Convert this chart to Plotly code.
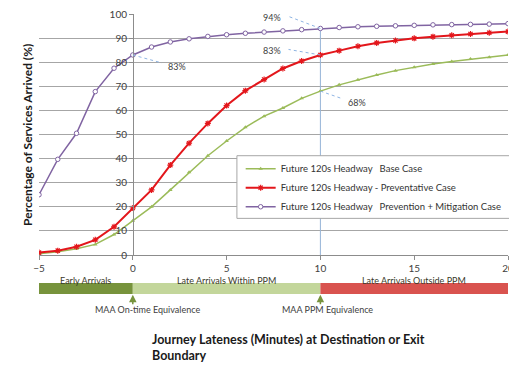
import plotly.graph_objects as go

# ---- data ----
minutes = list(range(-5, 21))
base_case = [0.5, 1.3, 2.6, 4.4, 8.5, 14.2, 20, 27, 34.3, 41.2, 47.3, 53, 57.6, 61, 65, 68,
             70.6, 72.7, 74.7, 76.5, 77.9, 79.3, 80.3, 81.3, 82.1, 83]
preventative = [1, 1.8, 3.4, 6.3, 11.7, 19.5, 27, 37.3, 46.4, 54.6, 62, 68.2, 72.8, 77.4, 80.5, 83,
                84.8, 86.6, 88, 89, 89.9, 90.6, 91.2, 91.7, 92.2, 92.7]
prevention_mitigation = [25, 39.7, 50.5, 67.8, 77.5, 83, 86.3, 88.4, 89.7, 90.7, 91.4, 92, 92.5, 93, 93.5, 94,
                         94.4, 94.7, 94.9, 95.1, 95.3, 95.5, 95.6, 95.7, 95.8, 96]
series_names = ["Future 120s Headway   Base Case",
                "Future 120s Headway - Preventative Case",
                "Future 120s Headway   Prevention + Mitigation Case"]
x_ticks = [-5, 0, 5, 10, 15, 20]
y_ticks = [0, 10, 20, 30, 40, 50, 60, 70, 80, 90, 100]
bands = [(-5, 0, "Early Arrivals"), (0, 10, "Late Arrivals Within PPM"), (10, 20, "Late Arrivals Outside PPM")]
# (point x, point y, label, label x, label y)
callouts = [(0, 83, "83%", 1.75, 78.2), (10, 94, "94%", 8.0, 98.5), (10, 83, "83%", 8.0, 84.8), (10, 68, "68%", 11.35, 63.4)]
markers_at = [(0, "MAA On-time Equivalence", 0.8), (10, "MAA PPM Equivalence", 10.4)]

FONT = "Lato, 'Open Sans', sans-serif"
TXT = "#404040"

fig = go.Figure()

# vertical reference line at x = 10
fig.add_trace(go.Scatter(x=[10, 10], y=[0, 94], mode="lines",
                         line=dict(color="#95B3D7", width=1), showlegend=False, hoverinfo="skip"))

fig.add_trace(go.Scatter(x=minutes, y=base_case, name=series_names[0], mode="lines+markers",
                         line=dict(color="#9BBB59", width=1.5),
                         marker=dict(symbol="triangle-up", size=4, color="#9BBB59")))
fig.add_trace(go.Scatter(x=minutes, y=preventative, name=series_names[1], mode="lines+markers",
                         line=dict(color="#E3161B", width=2),
                         marker=dict(symbol="asterisk", size=5, line=dict(color="#E3161B", width=1.2))))
fig.add_trace(go.Scatter(x=minutes, y=prevention_mitigation, name=series_names[2], mode="lines+markers",
                         line=dict(color="#8064A2", width=1.5),
                         marker=dict(symbol="circle", size=4.5, color="white",
                                     line=dict(color="#8064A2", width=1))))

# callout leader lines and labels
for (px, py, txt, tx, ty) in callouts:
    left_of = tx < px
    fig.add_shape(type="line", x0=px, y0=py, x1=tx + (0.3 if left_of else -0.2),
                  y1=ty + (0.5 if ty > py else 1.5),
                  xref="x", yref="y", line=dict(color="#8EB4E3", width=1, dash="dot"))
    fig.add_annotation(x=tx, y=ty, text=txt, showarrow=False, xref="x", yref="y",
                       xanchor="right" if left_of else "left",
                       font=dict(family=FONT, size=9, color=TXT))

# legend box (white, covers gridlines)
fig.add_shape(type="rect", xref="paper", yref="paper", x0=0.422, x1=1.015, y0=0.152, y1=0.412,
              fillcolor="white", line=dict(color="#A6A6A6", width=1), layer="above")

# classification bands below the axis
band_colors = ["#77933C", "#C3D69B", "#D9534F"]
for (b0, b1, label), col in zip(bands, band_colors):
    fig.add_shape(type="rect", xref="x", yref="paper", x0=b0, x1=b1, y0=-0.1615, y1=-0.116,
                  fillcolor=col, line=dict(width=0))
    fig.add_annotation(x=(b0 + b1) / 2, y=-0.139, xref="x", yref="paper", text=label, showarrow=False,
                       font=dict(family=FONT, size=9, color="#3A3A2A"))

for (mx, label, lx) in markers_at:
    fig.add_annotation(x=mx, y=-0.165, xref="x", yref="paper", text="", showarrow=True,
                       ax=0, ay=11, arrowhead=2, arrowsize=1, arrowwidth=1.5, arrowcolor="#77933C")
    fig.add_annotation(x=lx, y=-0.257, xref="x", yref="paper", text=label, showarrow=False,
                       font=dict(family=FONT, size=9, color=TXT))

# axis titles
fig.add_annotation(x=0.2367, y=-0.312, xref="paper", yref="paper", xanchor="left", yanchor="top", align="left",
                   text="<b>Journey Lateness (Minutes) at Destination or Exit<br>Boundary</b>",
                   showarrow=False, font=dict(family=FONT, size=12.5, color="#1A1A1A"))
fig.add_annotation(x=-0.045, y=0.5, xref="paper", yref="paper", textangle=-90,
                   text="<b>Percentage of Services Arrived (%)</b>", showarrow=False,
                   font=dict(family=FONT, size=12, color="#1A1A1A"))

# page body has an 8px margin, so the figure is 8px smaller and offset
fig.update_layout(
    width=509, height=361, margin=dict(l=31, r=9, t=6, b=114),
    paper_bgcolor="white", plot_bgcolor="white",
    font=dict(family=FONT, size=10, color=TXT),
    legend=dict(x=0.43, y=0.418, xanchor="left", yanchor="top", bgcolor="rgba(0,0,0,0)",
                font=dict(family=FONT, size=9.5, color="#333333"), itemwidth=30, tracegroupgap=0),
    xaxis=dict(range=[-5, 20], tickvals=x_ticks, showgrid=False, zeroline=False, automargin=False,
               showline=True, linecolor="#8C8C8C", ticks="outside", ticklen=4, tickcolor="#8C8C8C",
               ticklabeloverflow="allow",
               tickfont=dict(family=FONT, size=10, color=TXT)),
    yaxis=dict(range=[0, 100], tickvals=y_ticks, showgrid=True, gridcolor="#A6A6A6", gridwidth=1,
               zeroline=False, showline=True, linecolor="#8C8C8C", ticks="outside", ticklen=4,
               tickcolor="#8C8C8C", anchor="free", position=0.2004, automargin=False,
               ticklabeloverflow="allow",
               tickfont=dict(family=FONT, size=10, color=TXT)),
)

fig.write_html("out.html")
